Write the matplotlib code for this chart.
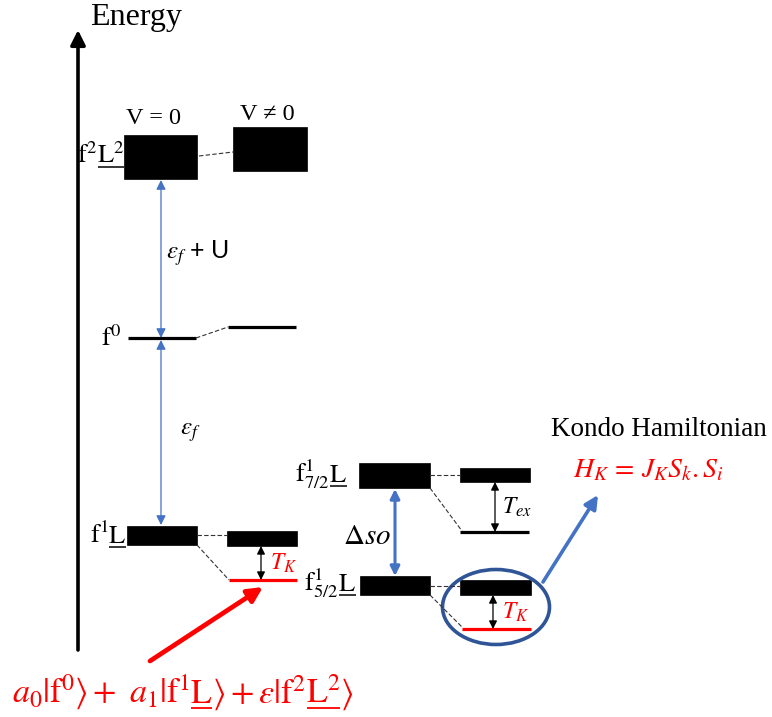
import matplotlib
matplotlib.use("Agg")
import matplotlib.pyplot as plt
from matplotlib.patches import Rectangle, Ellipse

plt.rcParams['mathtext.fontset'] = 'stix'
plt.rcParams['font.family'] = ['Liberation Serif', 'DejaVu Serif']

BLUE = '#4472C4'
DKBLUE = '#2F5597'
RED = '#FF0000'

# ---------------- level data (pixel coordinates of the sketch) ----------------
# thick level blocks: (x0, x1, y_top, y_bottom)
block_names = ['f2L2', 'f2L2_V', 'f1L', 'f1L_V', 'f72', 'f72_V', 'f52', 'f52_V']
block_x0 = [124, 233, 127, 227, 359, 460, 360, 460]
block_x1 = [197, 307, 197, 297, 430, 530, 430, 531]
block_yt = [135, 127, 526, 531, 463, 468, 576, 580]
block_yb = [179, 171, 545, 546, 488, 482, 595, 595]

# thin levels: (x0, x1, y, colour)
line_x0 = [128, 228, 229, 460, 462]
line_x1 = [196, 296, 297, 529, 531]
line_y = [338, 327, 580, 532, 629]
line_col = ['black', 'black', RED, 'black', RED]

# dashed connectors: (x0, y0, x1, y1)
dash_x0 = [199, 196, 197, 197, 430, 430, 430, 430]
dash_y0 = [156, 338, 535, 545, 475, 488, 586, 595]
dash_x1 = [233, 228, 227, 229, 460, 462, 460, 462]
dash_y1 = [152, 327, 535, 580, 475, 531, 586, 627]

# level labels: fragments (mathtext, underlined?)
lab_f2L2 = [(r'\mathrm{f}^{2}', False), (r'\mathrm{L}^{2}', True)]
lab_f0 = [(r'\mathrm{f}^{0}', False)]
lab_f1L = [(r'\mathrm{f}^{1}', False), (r'\mathrm{L}', True)]
lab_f72 = [(r'\mathrm{f}^{1}_{7/2}', False), (r'\mathrm{L}', True)]
lab_f52 = [(r'\mathrm{f}^{1}_{5/2}', False), (r'\mathrm{L}', True)]
formula = [(r'a_0|\mathrm{f}^0\rangle +\ a_1|\mathrm{f}^1', False),
           (r'\mathrm{L}', True),
           (r'\rangle + \varepsilon|\mathrm{f}^2', False),
           (r'\mathrm{L}^2', True),
           (r'\rangle', False)]

fig = plt.figure(figsize=(7.72, 7.17), dpi=100)
ax = fig.add_axes([0, 0, 1, 1])
ax.set_xlim(0, 772)
ax.set_ylim(717, 0)
ax.axis('off')
R = fig.canvas.get_renderer()

for x0, x1, yt, yb in zip(block_x0, block_x1, block_yt, block_yb):
    ax.add_patch(Rectangle((x0, yt), x1 - x0, yb - yt, facecolor='black',
                           edgecolor='black', lw=0.5))

for x0, x1, y, c in zip(line_x0, line_x1, line_y, line_col):
    ax.plot([x0, x1], [y, y], color=c, lw=2.3, solid_capstyle='butt')

for x0, y0, x1, y1 in zip(dash_x0, dash_y0, dash_x1, dash_y1):
    ax.plot([x0, x1], [y0, y1], color='#333333', lw=0.8, ls=(0, (4, 2)))


def arrow(x0, y0, x1, y1, style, color, lw, ms):
    ax.annotate('', xy=(x1, y1), xytext=(x0, y0),
                arrowprops=dict(arrowstyle=style, color=color, lw=lw,
                                shrinkA=0, shrinkB=0, mutation_scale=ms))


def frag_width(s, fs):
    t = ax.text(0, 0, s, fontsize=fs)
    w = t.get_window_extent(R).width
    t.remove()
    return w


def seq_text(x, y, frags, fs, color='black', ha='left', uoff=4, ulw=1.1):
    widths = [frag_width('$' + f + '$', fs) for f, _ in frags]
    total = sum(widths)
    if ha == 'right':
        x -= total
    elif ha == 'center':
        x -= total / 2
    for (f, u), w in zip(frags, widths):
        ax.text(x, y, '$' + f + '$', fontsize=fs, color=color, ha='left',
                va='baseline')
        if u:
            ax.plot([x + 1, x + w], [y + uoff, y + uoff], color=color, lw=ulw,
                    solid_capstyle='butt')
        x += w


# Energy axis
arrow(78, 650, 78, 30, '-|>', 'black', 2.6, 22)
# blue thin arrows
arrow(161, 180, 161, 338, '<|-|>', BLUE, 0.9, 14)
arrow(161, 340, 161, 525, '<|-|>', BLUE, 0.9, 14)
# spin-orbit arrow
arrow(395, 489, 395, 576, '<|-|>', BLUE, 2.2, 14)
# small black double arrows
arrow(261, 546, 261, 580, '<|-|>', 'black', 0.9, 12)
arrow(495, 482, 495, 532, '<|-|>', 'black', 0.9, 12)
arrow(493, 595, 493, 629, '<|-|>', 'black', 0.9, 12)
# red arrow
arrow(150, 661, 263, 587, '-|>', RED, 3.4, 22)
# Kondo arrow
arrow(543, 582, 598, 495, '-|>', BLUE, 2.6, 20)

ax.add_patch(Ellipse((496, 607), 107, 75, facecolor='none', edgecolor=DKBLUE, lw=2.6))

# ---------------- texts ----------------
ax.text(90, 18, 'Energy', fontsize=23, ha='left', va='center')
ax.text(154, 118, 'V = 0', fontsize=17.5, ha='center', va='center')
ax.text(267, 115, 'V ≠ 0', fontsize=17.5, ha='center', va='center')

seq_text(124, 163, lab_f2L2, 19, ha='right')
seq_text(121, 346, lab_f0, 19, ha='right')
seq_text(126, 543, lab_f1L, 19, ha='right')
seq_text(347, 482, lab_f72, 19, ha='right')
seq_text(356, 591, lab_f52, 19, ha='right')

ax.text(166, 253, r'$\varepsilon_f$' + ' + U', fontsize=18, ha='left', va='center',
        family=['Lato', 'DejaVu Sans'])
ax.text(180, 433, r'$\varepsilon_f$', fontsize=18, ha='left', va='center')

ax.text(343, 537, r'$\Delta so$', fontsize=21, ha='left', va='center')
ax.text(502, 507, r'$T_{ex}$', fontsize=17, ha='left', va='center')
ax.text(270, 563, r'$T_K$', fontsize=17, ha='left', va='center', color=RED)
ax.text(502, 612, r'$T_K$', fontsize=17, ha='left', va='center', color=RED)

ax.text(659, 430, 'Kondo Hamiltonian', fontsize=19.5, ha='center', va='center')
ax.text(573, 471, r'$H_K\,=\,J_K S_k . S_i$', fontsize=20, ha='left', va='center',
        color=RED)

seq_text(12, 703, formula, 24.5, color=RED, uoff=5, ulw=1.3)

fig.savefig('out.png', dpi=100)
